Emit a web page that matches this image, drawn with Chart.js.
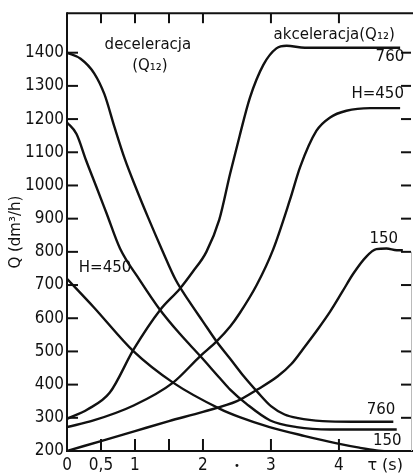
<!DOCTYPE html>
<html><head><meta charset="utf-8">
<script src="https://cdn.jsdelivr.net/npm/chart.js@4/dist/chart.umd.min.js"></script>
<style>html,body{margin:0;padding:0;background:#fff;overflow:hidden}</style>
</head><body>
<canvas id="c" width="413" height="475"></canvas>
<script>
// ---- axis ticks ----
const xTickValues = [0, 0.5, 1, 1.5, 2, 3, 4];
const xTickLabels = ['0', '0,5', '1', '', '2', '3', '4'];
const yTickValues = [200, 300, 400, 500, 600, 700, 800, 900, 1000, 1100, 1200, 1300, 1400];

// ---- deceleracja (Q12) ----
const tauDec760 = [0, 0.2, 0.4, 0.55, 0.7, 0.85, 1.0, 1.2, 1.4, 1.6, 1.8, 2.0, 2.2, 2.4, 2.6, 2.8, 3.0, 3.2, 3.4, 3.76, 4.2, 4.8];
const qDec760   = [1400, 1382, 1338, 1275, 1175, 1080, 1000, 900, 805, 715, 650, 590, 530, 478, 425, 378, 335, 310, 299, 290, 288, 288];

const tauDecMid = [0, 0.14, 0.28, 0.43, 0.58, 0.78, 1.07, 1.37, 1.66, 1.96, 2.25, 2.4, 2.64, 2.99, 3.38, 3.87, 4.85];
const qDecMid   = [1190, 1155, 1076, 997, 917, 810, 715, 625, 553, 486, 419, 385, 342, 292, 272, 265, 265];

const tauDec450 = [0, 0.39, 0.98, 1.56, 2.25, 2.54, 2.98, 3.5, 3.97, 4.3, 4.55, 4.8];
const qDec450   = [719, 634, 500, 406, 327, 302, 272, 245, 223, 210, 202, 198];

// ---- akceleracja (Q12) ----
const tauAcc760 = [0, 0.3, 0.63, 0.98, 1.37, 1.66, 1.85, 2.05, 2.24, 2.4, 2.54, 2.69, 2.89, 3.08, 3.23, 3.5, 4.0, 4.9];
const qAcc760   = [297, 325, 376, 506, 625, 689, 740, 800, 897, 1036, 1150, 1264, 1364, 1413, 1421, 1415, 1415, 1415];

const tauAcc450 = [0, 0.39, 0.98, 1.56, 1.96, 2.2, 2.4, 2.54, 2.79, 3.03, 3.28, 3.43, 3.67, 3.87, 4.11, 4.46, 4.9];
const qAcc450   = [272, 292, 337, 406, 486, 530, 575, 615, 700, 806, 957, 1056, 1165, 1205, 1225, 1233, 1233];

const tauAcc150 = [0, 0.5, 1.0, 1.5, 2.0, 2.5, 2.8, 3.1, 3.3, 3.5, 3.7, 3.87, 4.05, 4.21, 4.4, 4.55, 4.7, 4.85, 4.94];
const qAcc150   = [200, 230, 260, 290, 318, 350, 385, 425, 462, 515, 570, 620, 680, 734, 785, 808, 810, 805, 805];

// ---- text annotations (data coordinates: tau, Q) ----
const noteTexts = ['deceleracja', '(Q\u2081\u2082)', 'akceleracja(Q\u2081\u2082)', '760', 'H=450', '150', 'H=450', '760', '150'];
const noteTau   = [1.19, 1.22, 3.93, 4.75, 4.57, 4.66, 0.56, 4.62, 4.71];
const noteQ     = [1424, 1361, 1454, 1388, 1275, 837, 751, 322, 230];

const INK = '#111';
function pts(t, q) { return t.map((v, i) => ({x: v, y: q[i]})); }
function ds(t, q) {
  return {data: pts(t, q), borderColor: INK, borderWidth: 2.4, pointRadius: 0,
          cubicInterpolationMode: 'monotone', fill: false};
}

const framePlugin = {
  id: 'frame',
  afterDatasetsDraw(chart) {
    const ctx = chart.ctx, ca = chart.chartArea, xs = chart.scales.x, ys = chart.scales.y;
    ctx.save();
    ctx.strokeStyle = INK; ctx.lineWidth = 2; ctx.lineCap = 'butt';
    const line = (x1, y1, x2, y2) => { ctx.beginPath(); ctx.moveTo(x1, y1); ctx.lineTo(x2, y2); ctx.stroke(); };
    line(ca.left, ca.top - 1, ca.left, ca.bottom + 1);
    line(ca.left - 1, ca.bottom, ca.right + 2, ca.bottom);
    line(ca.left, ca.top, ca.right + 2, ca.top);
    yTickValues.forEach(v => {
      if (v <= 200) return;
      const y = ys.getPixelForValue(v);
      line(ca.left, y, ca.left + 11, y);
      line(ca.right - 10, y, ca.right, y);
    });
    xTickValues.forEach(v => {
      if (v <= 0) return;
      const x = xs.getPixelForValue(v);
      line(x, ca.bottom, x, ca.bottom - 12);
      line(x, ca.top, x, ca.top + 10);
    });
    ctx.strokeStyle = '#bbb'; ctx.lineWidth = 1;
    line(ca.right + 0.5, ys.getPixelForValue(800), ca.right + 0.5, ca.bottom);
    // annotations
    ctx.fillStyle = INK; ctx.textAlign = 'center'; ctx.textBaseline = 'middle';
    ctx.font = '15px "DejaVu Sans", sans-serif';
    noteTexts.forEach((t, i) => {
      ctx.fillText(t, xs.getPixelForValue(noteTau[i]), ys.getPixelForValue(noteQ[i]));
    });
    ctx.font = '16px "DejaVu Sans", sans-serif';
    ctx.fillText('\u03C4 (s)', xs.getPixelForValue(4.68), ca.bottom + 15);
    ctx.font = '10px "DejaVu Sans", sans-serif';
    ctx.fillText('\u2022', xs.getPixelForValue(2.5), ca.bottom + 15);
    ctx.restore();
  }
};

const tickFont = {family: '"Liberation Sans Narrow", "DejaVu Sans Condensed", sans-serif', size: 17};

new Chart(document.getElementById('c'), {
  type: 'line',
  data: {datasets: [
    ds(tauDec760, qDec760), ds(tauDecMid, qDecMid), ds(tauDec450, qDec450),
    ds(tauAcc760, qAcc760), ds(tauAcc450, qAcc450), ds(tauAcc150, qAcc150)
  ]},
  options: {
    responsive: false, animation: false, devicePixelRatio: 1,
    layout: {padding: {top: 8, right: 2, left: 0, bottom: 0}},
    plugins: {legend: {display: false}, tooltip: {enabled: false}},
    scales: {
      x: {
        type: 'linear', min: 0, max: 5.06,
        grid: {display: false, drawTicks: false, tickLength: 0},
        border: {display: false},
        afterBuildTicks: s => { s.ticks = xTickValues.map(v => ({value: v})); },
        afterFit: s => { s.height = 24; },
        ticks: {
          color: INK, font: tickFont, padding: 4, maxRotation: 0, autoSkip: false,
          callback: v => { const i = xTickValues.indexOf(v); return i >= 0 ? xTickLabels[i] : ''; }
        }
      },
      y: {
        type: 'linear', min: 200, max: 1519,
        grid: {display: false, drawTicks: false, tickLength: 0},
        border: {display: false},
        afterBuildTicks: s => { s.ticks = yTickValues.map(v => ({value: v})); },
        afterFit: s => { s.width = 67; },
        title: {display: true, text: 'Q (dm\u00B3/h)', color: INK,
                font: {family: '"DejaVu Sans", sans-serif', size: 15}, padding: {top: 7, bottom: 0}},
        ticks: {color: INK, font: tickFont, padding: 3, autoSkip: false, callback: v => String(v)}
      }
    }
  },
  plugins: [framePlugin]
});
</script>
</body></html>
